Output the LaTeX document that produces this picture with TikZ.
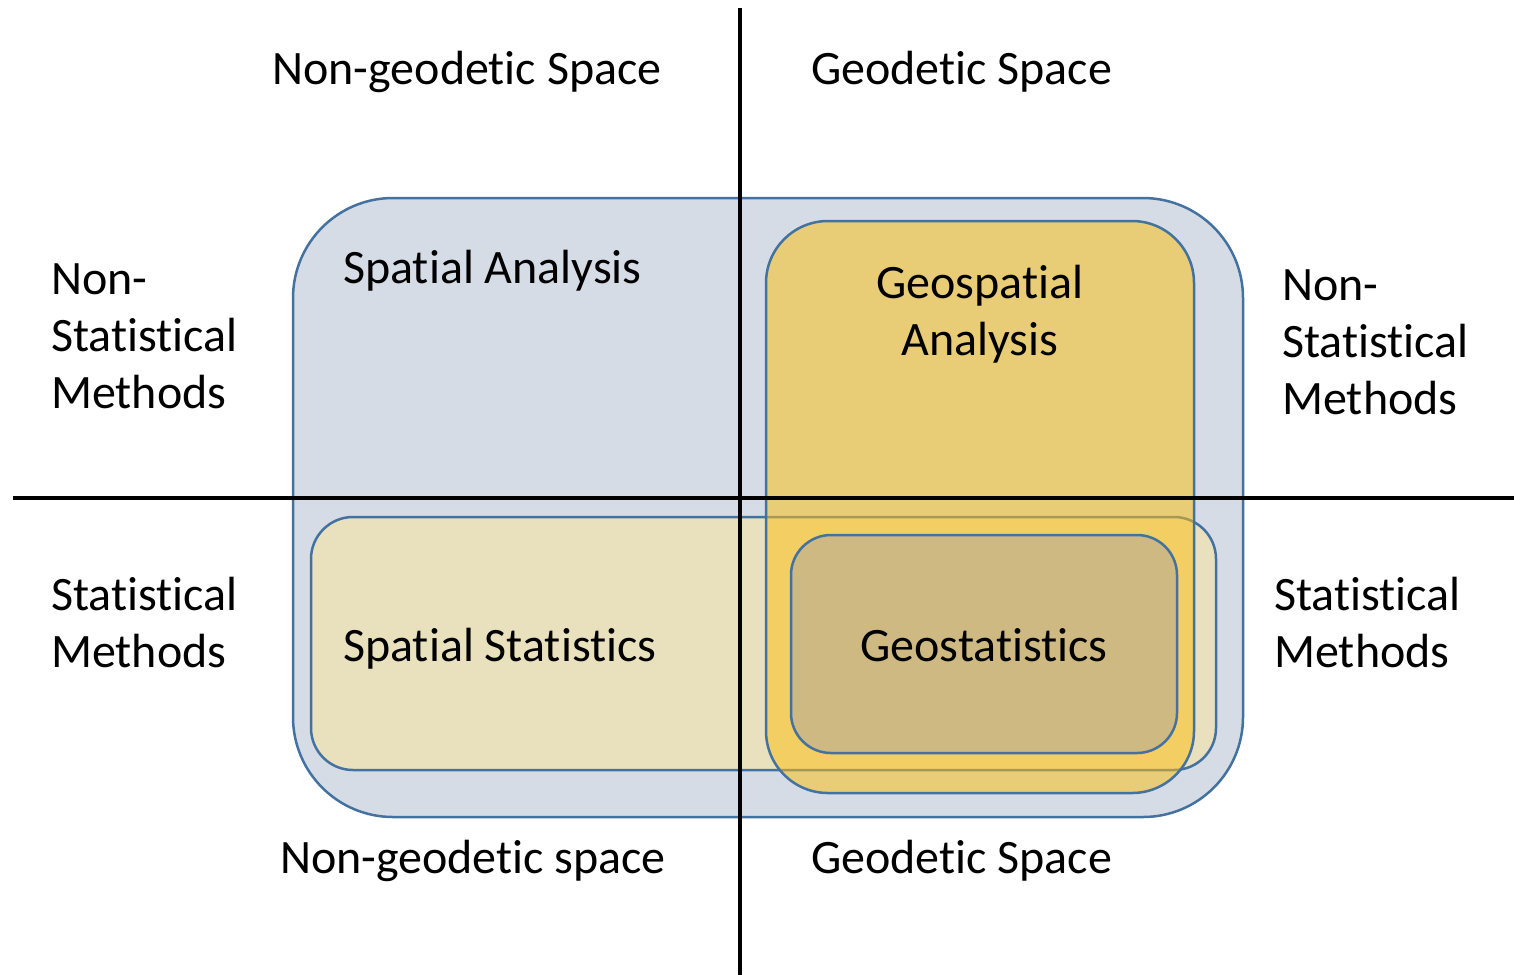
\documentclass[tikz,border=0pt]{standalone}
\usepackage{fontspec}
\setmainfont[Ligatures={NoCommon}]{Carlito}
\begin{document}
\begin{tikzpicture}[x=1pt,y=-1pt,
  lbl/.style={inner sep=0pt,font=\fontsize{48}{57}\selectfont,text=black},
  box/.style={draw=boxline,line width=2.5pt},
  axis/.style={draw=black,line width=3.5pt}]
\definecolor{boxline}{RGB}{68,114,160}
\definecolor{bluefill}{RGB}{214,220,229}
\definecolor{statfill}{RGB}{233,225,189}
\definecolor{geofill}{RGB}{250,190,20}
\definecolor{geostatfill}{RGB}{205,185,129}
\useasboundingbox (0,0) rectangle (1514,975);
% regions
\draw[box,fill=bluefill,rounded corners=100pt] (293,198) rectangle (1243,817);
\draw[box,fill=statfill,rounded corners=42pt] (311,517) rectangle (1216,770);
\draw[box,fill=geofill,fill opacity=0.53,rounded corners=62pt] (766,221) rectangle (1194,793);
\draw[box,fill=geostatfill,rounded corners=40pt] (791,535) rectangle (1177,753);
% axes
\coordinate (vt) at (740,8);
\coordinate (vb) at (740,975);
\coordinate (hl) at (13,498);
\coordinate (hr) at (1514,498);
\draw[axis] (vt) -- (vb);
\draw[axis] (hl) -- (hr);
% labels
\node[lbl,anchor=base] (ngt) at (467,84) {Non-geodetic Space};
\node[lbl,anchor=base west] (gt) at (811,84) {Geodetic Space};
\node[lbl,anchor=base west] (sa) at (343,283) {Spatial Analysis};
\node[lbl,anchor=base,align=center] (ga) at (980,355) {Geospatial\\Analysis};
\node[lbl,anchor=base west,align=left] (nsl) at (51,408) {Non-\\Statistical\\Methods};
\node[lbl,anchor=base west,align=left] (nsr) at (1282,414) {Non-\\Statistical\\Methods};
\node[lbl,anchor=base west,align=left] (sl) at (51,667) {Statistical\\Methods};
\node[lbl,anchor=base west,align=left] (sr) at (1274,667) {Statistical\\Methods};
\node[lbl,anchor=base west] (ss) at (343,661) {Spatial Statistics};
\node[lbl,anchor=base] (gs) at (984,661) {Geostatistics};
\node[lbl,anchor=base] (ngb) at (473,873) {Non-geodetic space};
\node[lbl,anchor=base west] (gb) at (811,873) {Geodetic Space};
\end{tikzpicture}
\end{document}
